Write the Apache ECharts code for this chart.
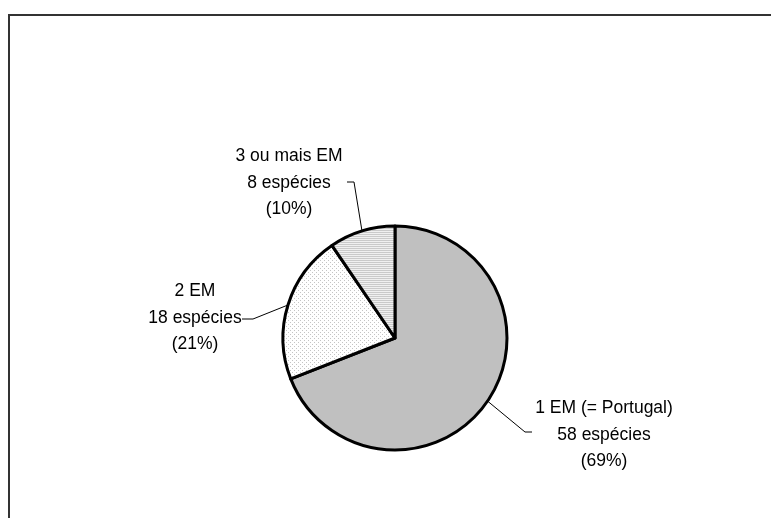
<!DOCTYPE html>
<html>
<head>
<meta charset="utf-8">
<script src="https://cdn.jsdelivr.net/npm/echarts@6/dist/echarts.min.js"></script>
<style>
html,body{margin:0;padding:0;background:#fff;}
#c{width:771px;height:518px;}
</style>
</head>
<body>
<div id="c"></div>
<script>
const categories = ['1 EM (= Portugal)', '2 EM', '3 ou mais EM'];
const speciesCounts = [58, 18, 8];

function makePattern(type) {
  const cv = document.createElement('canvas');
  if (type === 'dots') {
    cv.width = 4; cv.height = 4;
    const g = cv.getContext('2d');
    g.fillStyle = '#ffffff'; g.fillRect(0, 0, 4, 4);
    g.fillStyle = '#c4c4c4';
    g.fillRect(0, 0, 1, 1);
    g.fillRect(2, 2, 1, 1);
  } else {
    cv.width = 2; cv.height = 2;
    const g = cv.getContext('2d');
    g.fillStyle = '#f0f0f0'; g.fillRect(0, 0, 2, 2);
    g.fillStyle = '#cacaca'; g.fillRect(0, 0, 2, 1);
  }
  return { image: cv, repeat: 'repeat' };
}

const fills = ['#c0c0c0', makePattern('dots'), makePattern('lines')];

// label anchor positions (px) and leader-line bends
const labelPos = [
  { x: 604, y: 435, bend: [[525, 432], [532, 432]] },
  { x: 195, y: 318, bend: [[253, 319], [242, 319]] },
  { x: 289, y: 183, bend: [[354, 182], [347, 182]] }
];

const chart = echarts.init(document.getElementById('c'), null, { renderer: 'canvas' });
chart.setOption({
  backgroundColor: '#ffffff',
  animation: false,
  graphic: [{
    type: 'rect',
    shape: { x: 9, y: 15, width: 1000, height: 1000 },
    style: { fill: 'none', stroke: '#333333', lineWidth: 2 },
    silent: true
  }],
  series: [{
    type: 'pie',
    center: [395, 338],
    radius: 112,
    startAngle: 90,
    clockwise: true,
    percentPrecision: 0,
    data: categories.map((n, i) => ({
      name: n,
      value: speciesCounts[i],
      itemStyle: { color: fills[i] }
    })),
    itemStyle: { borderColor: '#000000', borderWidth: 3 },
    label: {
      show: true,
      position: 'outside',
      formatter: p => p.name + '\n' + p.value + ' espécies\n(' + p.percent + '%)',
      fontFamily: '"Liberation Sans", Arial, sans-serif',
      fontSize: 17.5,
      lineHeight: 26.5,
      color: '#000000',
      align: 'center'
    },
    labelLine: {
      show: true,
      length: 20,
      length2: 10,
      lineStyle: { color: '#000000', width: 1 }
    },
    labelLayout: function (params) {
      const lp = labelPos[params.dataIndex];
      const start = params.labelLinePoints ? params.labelLinePoints[0] : lp.bend[0];
      return {
        x: lp.x,
        y: lp.y,
        align: 'center',
        verticalAlign: 'middle',
        labelLinePoints: [start, lp.bend[0], lp.bend[1]]
      };
    },
    emphasis: { disabled: true }
  }]
});
</script>
</body>
</html>
